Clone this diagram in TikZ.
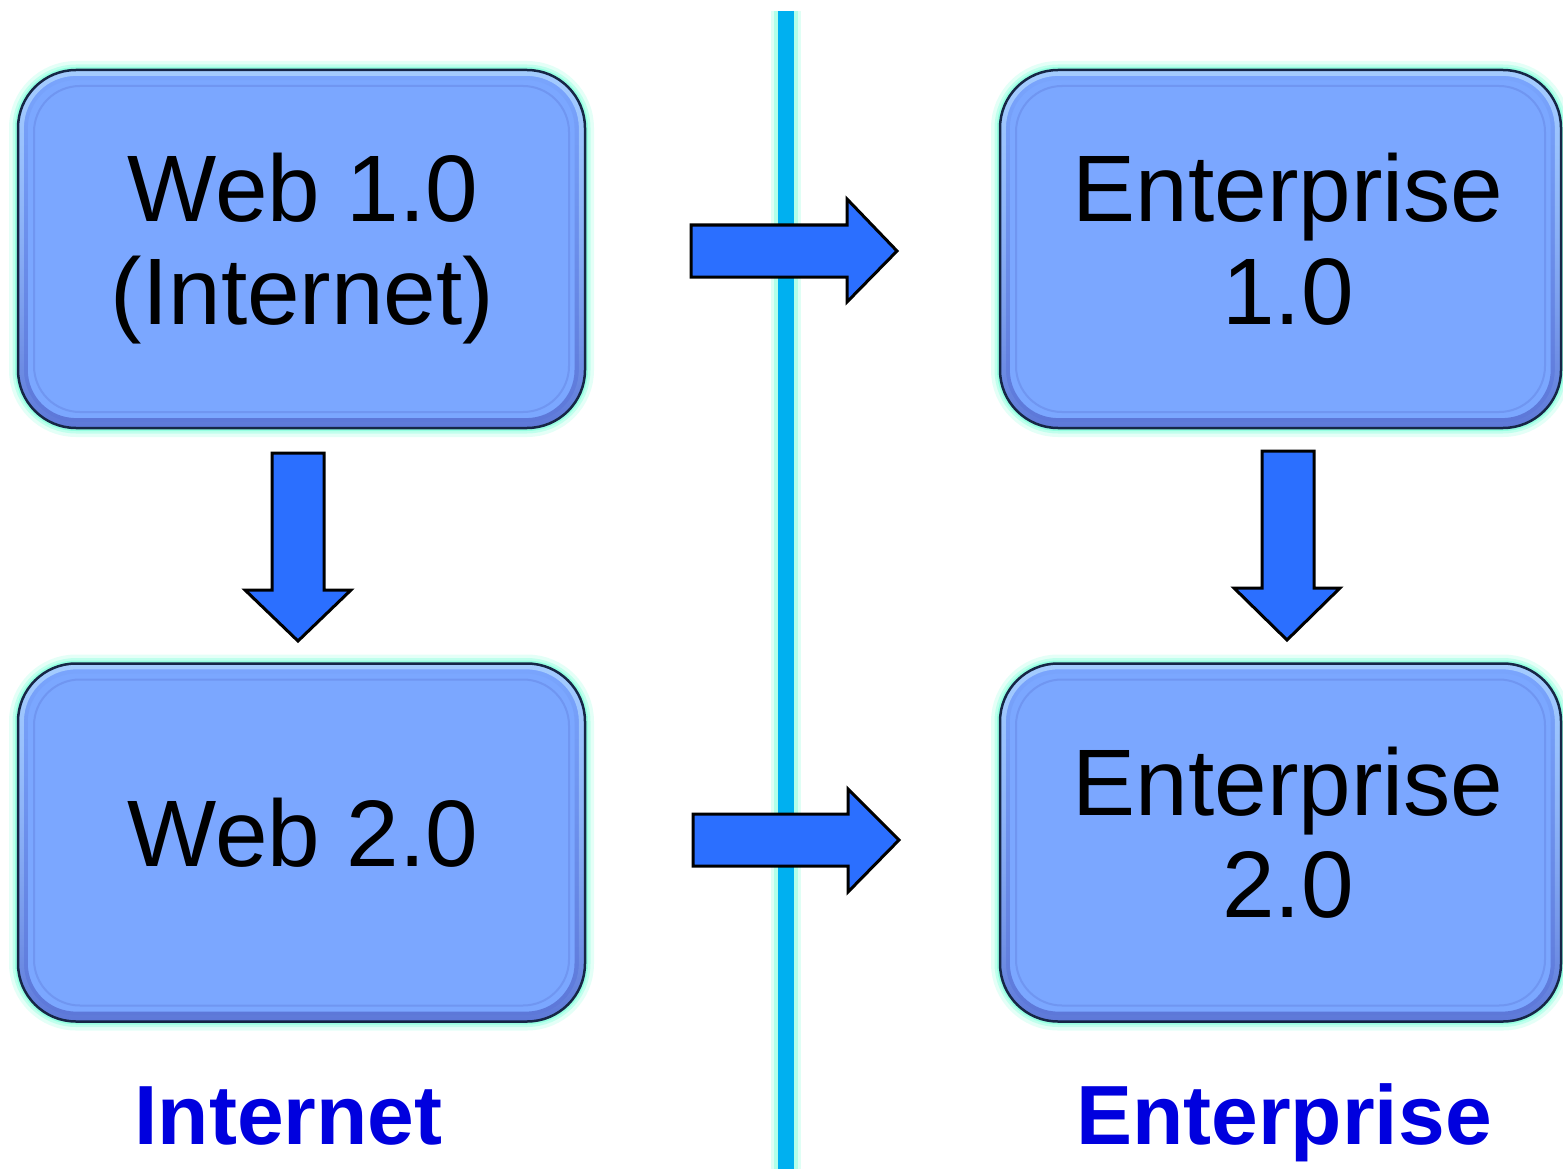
\documentclass[tikz,border=0pt]{standalone}
\usepackage{fontspec}
\usetikzlibrary{fadings}
\setmainfont{Liberation Sans}
\definecolor{boxfill}{RGB}{123,167,255}
\definecolor{boxedge}{RGB}{22,38,70}
\definecolor{boxshade}{RGB}{92,118,215}
\definecolor{boxlight}{RGB}{165,205,255}
\definecolor{glowc}{RGB}{150,255,225}
\definecolor{arrowfill}{RGB}{43,111,255}
\definecolor{linec}{RGB}{0,176,240}
\definecolor{lblblue}{RGB}{0,0,222}
\tikzset{
  box/.style={rounded corners=58pt, fill=boxfill, draw=boxedge, line width=2.5pt, inner sep=0pt,
    preaction={draw=glowc, line width=18pt, opacity=0.25},
    preaction={draw=glowc, line width=11pt, opacity=0.45},
    preaction={draw=glowc, line width=6pt},
    path picture={
      \draw[boxshade, line width=20pt, rounded corners=58pt, path fading=north]
        (path picture bounding box.north west) rectangle (path picture bounding box.south east);
      \draw[boxlight, line width=12pt, rounded corners=58pt, path fading=south]
        (path picture bounding box.north west) rectangle (path picture bounding box.south east);
      \draw[boxfill!65!boxshade, line width=2pt, rounded corners=46pt]
        ([xshift=16pt,yshift=-16pt]path picture bounding box.north west) rectangle
        ([xshift=-16pt,yshift=16pt]path picture bounding box.south east);
    }},
  blockarrow/.style={fill=arrowfill, draw=black, line width=3pt, line join=miter},
  boxtext/.style={font=\fontsize{94.5}{101}\selectfont, text=black, inner sep=0pt, anchor=base},
  lbl/.style={font=\fontsize{84}{90}\selectfont\bfseries, text=lblblue, inner sep=0pt, anchor=base},
}
\begin{document}
\begin{tikzpicture}[x=1pt,y=-1pt]
\useasboundingbox (0,0) rectangle (1563,1169);
\fill[white] (0,0) rectangle (1563,1169);
% divider line with glow
\coordinate (ltop) at (786,11);
\coordinate (lbot) at (786,1175);
\draw[glowc, line width=30pt, opacity=0.3] (ltop) -- (lbot);
\draw[glowc, line width=24pt, opacity=0.6] (ltop) -- (lbot);
\draw[linec, line width=16pt] (ltop) -- (lbot);
% boxes
\node[box, minimum width=567pt, minimum height=358pt] (b1) at (301.5,249) {};
\node[box, minimum width=567pt, minimum height=358pt] (b2) at (301.5,842.5) {};
\node[box, minimum width=561pt, minimum height=358pt] (b3) at (1280.5,249) {};
\node[box, minimum width=561pt, minimum height=358pt] (b4) at (1280.5,842.5) {};
% box texts
\node[boxtext] (t1a) at (303,222) {Web 1.0};
\node[boxtext] (t1b) at (302.5,324) {(Internet)};
\node[boxtext] (t2a) at (303,866) {Web 2.0};
\node[boxtext] (t3a) at (1288,222) {Enterprise};
\node[boxtext] (t3b) at (1288,324) {1.0};
\node[boxtext] (t4a) at (1288,815) {Enterprise};
\node[boxtext] (t4b) at (1288,917) {2.0};
% block arrows
\draw[blockarrow] (691,225) -- (847,225) -- (847,199) -- (897,251) -- (847,302) -- (847,277) -- (691,277) -- cycle;
\draw[blockarrow] (693,814) -- (848,814) -- (848,789) -- (899,840) -- (848,892) -- (848,866) -- (693,866) -- cycle;
\draw[blockarrow] (272,453) -- (324,453) -- (324,590) -- (351,590) -- (298,641) -- (245,590) -- (272,590) -- cycle;
\draw[blockarrow] (1262,451) -- (1314,451) -- (1314,588) -- (1340,588) -- (1287,640) -- (1234,588) -- (1262,588) -- cycle;
% bottom labels
\node[lbl] (l1) at (288.5,1144) {Internet};
\node[lbl] (l2) at (1284,1144) {Enterprise};
\end{tikzpicture}
\end{document}
